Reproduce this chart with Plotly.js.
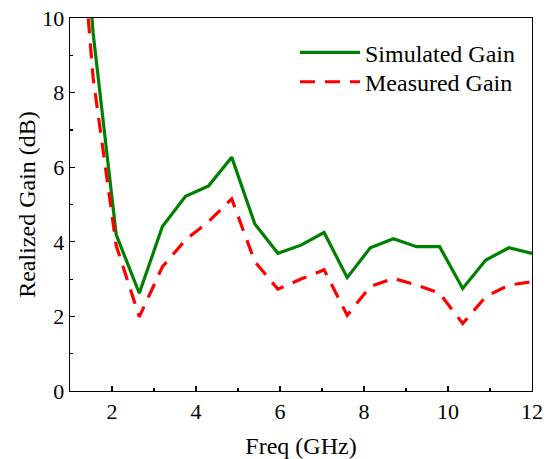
<!DOCTYPE html>
<html>
<head>
<meta charset="utf-8">
<script src="https://cdn.plot.ly/plotly-3.0.1.min.js"></script>
<style>html,body{margin:0;padding:0;background:#fff;}#chart{width:546px;height:459px;}</style>
</head>
<body>
<div id="chart"></div>
<script>
const freq = [1, 1.55, 2.1, 2.65, 3.2, 3.75, 4.3, 4.85, 5.4, 5.95, 6.5, 7.05, 7.6, 8.15, 8.7, 9.25, 9.8, 10.35, 10.9, 11.45, 12];
const simulatedGain = [18, 9.6, 4.19, 2.62, 4.41, 5.22, 5.5, 6.27, 4.48, 3.69, 3.91, 4.25, 3.04, 3.84, 4.08, 3.87, 3.87, 2.75, 3.51, 3.84, 3.69];
const measuredGain = [16, 8.4, 3.9, 1.99, 3.33, 4.05, 4.54, 5.15, 3.47, 2.73, 3.0, 3.25, 2.03, 2.8, 3.02, 2.84, 2.62, 1.81, 2.53, 2.84, 2.93];
const seriesNames = ["Simulated Gain", "Measured Gain"];
const xTicks = [2, 4, 6, 8, 10, 12];
const yTicks = [0, 2, 4, 6, 8, 10];

const font = {family: "'Liberation Serif', 'Times New Roman', serif", color: '#000'};

const traces = [
  {x: freq, y: simulatedGain, name: seriesNames[0], mode: 'lines', type: 'scatter', legend: 'legend',
   line: {color: '#008000', width: 3.2}},
  {x: freq, y: measuredGain, name: seriesNames[1], mode: 'lines', type: 'scatter', legend: 'legend2',
   line: {color: '#ff0000', width: 3.2, dash: '15px,10px'}}
];

const axisCommon = {
  showgrid: false, zeroline: false, showline: true, linecolor: '#000', linewidth: 1.3,
  mirror: true, ticks: 'inside', ticklen: 5, tickwidth: 1.3, tickcolor: '#000',
  tickfont: Object.assign({size: 22}, font),
  minor: {ticks: 'inside', ticklen: 3, tickwidth: 1.2, tickcolor: '#000', dtick: 1}
};

const legendCommon = {xanchor: 'left', yanchor: 'middle', bgcolor: 'rgba(0,0,0,0)',
  font: Object.assign({size: 24}, font), itemwidth: 60};

const layout = {
  width: 546, height: 459,
  margin: {l: 70, r: 14, t: 18, b: 68},
  paper_bgcolor: '#fff', plot_bgcolor: '#fff',
  font: font,
  showlegend: true,
  legend: Object.assign({x: 0.487, y: 0.907}, legendCommon),
  legend2: Object.assign({x: 0.487, y: 0.828}, legendCommon),
  xaxis: Object.assign({}, axisCommon, {
    range: [1, 12], tickvals: xTicks, ticktext: xTicks.map(String),
    title: {text: 'Freq (GHz)', font: Object.assign({size: 24}, font), standoff: 17}
  }),
  yaxis: Object.assign({}, axisCommon, {
    range: [0, 10], tickvals: yTicks, ticktext: yTicks.map(String),
    title: {text: 'Realized Gain (dB)', font: Object.assign({size: 24}, font), standoff: 0}
  })
};

Plotly.newPlot('chart', traces, layout, {staticPlot: true, displayModeBar: false});
</script>
</body>
</html>
